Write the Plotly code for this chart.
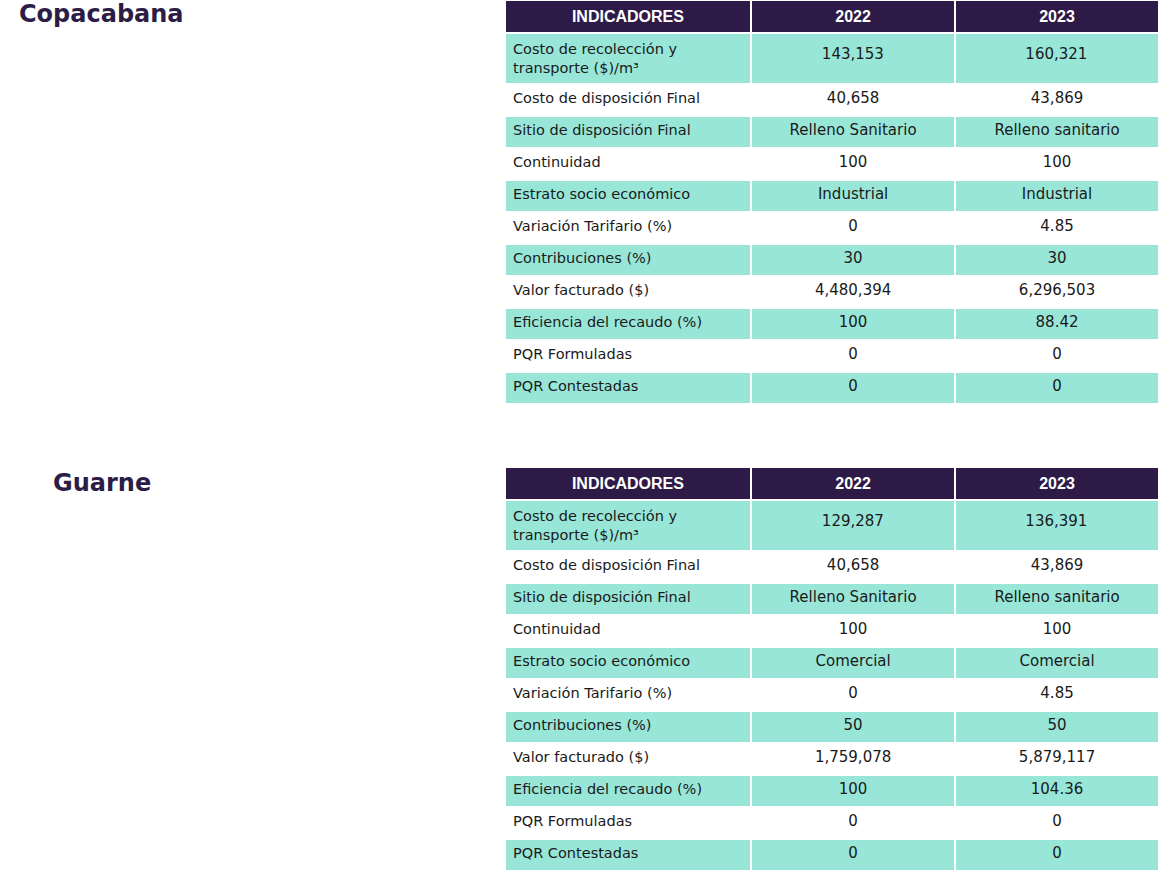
import plotly.graph_objects as go

W, H = 1173, 882

headers = ["INDICADORES", "2022", "2023"]
indicadores = [
    "Costo de recolección y<br>transporte ($)/m³",
    "Costo de disposición Final",
    "Sitio de disposición Final",
    "Continuidad",
    "Estrato socio económico",
    "Variación Tarifario (%)",
    "Contribuciones (%)",
    "Valor facturado ($)",
    "Eficiencia del recaudo (%)",
    "PQR Formuladas",
    "PQR Contestadas",
]

copa_2022 = ["143,153", "40,658", "Relleno Sanitario", "100", "Industrial", "0", "30",
             "4,480,394", "100", "0", "0"]
copa_2023 = ["160,321", "43,869", "Relleno sanitario", "100", "Industrial", "4.85", "30",
             "6,296,503", "88.42", "0", "0"]

guarne_2022 = ["129,287", "40,658", "Relleno Sanitario", "100", "Comercial", "0", "50",
               "1,759,078", "100", "0", "0"]
guarne_2023 = ["136,391", "43,869", "Relleno sanitario", "100", "Comercial", "4.85", "50",
               "5,879,117", "104.36", "0", "0"]

HEAD_BG = "#2e1a47"
TEAL = "#98e6d8"
WHITE = "#ffffff"
CLEAR = "rgba(0,0,0,0)"
FONT = "DejaVu Sans"
TXT = "#1a1a1a"
FS_LABEL = 14.5
FS_VALUE = 15

n = len(indicadores)
row_fill = [TEAL if i % 2 == 0 else WHITE for i in range(n)]

X0, X1 = 505, 1159
COLW = [245, 203, 203]
scale = (X1 - X0) / sum(COLW)
XV = X0 + COLW[0] * scale  # left edge of the value columns


def make_tables(c1, c2, top_px):
    # first row of value columns is drawn by an overlay so it sits mid-row
    v1 = [""] + list(c1[1:])
    v2 = [""] + list(c2[1:])
    main = go.Table(
        domain=dict(x=[X0 / W, X1 / W], y=[0, 1 - top_px / H]),
        columnwidth=COLW,
        header=dict(
            values=[f"<b>{h}</b>" for h in headers],
            fill_color=HEAD_BG,
            line=dict(color=WHITE, width=2),
            align="center",
            font=dict(family="Liberation Sans", size=16, color=WHITE),
            height=28,
        ),
        cells=dict(
            values=[indicadores, v1, v2],
            fill_color=[row_fill, row_fill, row_fill],
            line=dict(color=WHITE, width=2),
            align=["left", "center", "center"],
            font=dict(family=FONT, size=[FS_LABEL, FS_VALUE, FS_VALUE], color=TXT),
            height=32,
        ),
    )
    first_top = top_px + 40
    overlay = go.Table(
        domain=dict(x=[XV / W, X1 / W], y=[0, 1 - first_top / H]),
        columnwidth=COLW[1:],
        header=dict(
            values=[c1[0], c2[0]],
            fill_color=CLEAR,
            line=dict(color=CLEAR, width=0),
            align="center",
            font=dict(family=FONT, size=FS_VALUE, color=TXT),
            height=28,
        ),
        cells=dict(values=[[""], [""]], fill_color=CLEAR,
                   line=dict(color=CLEAR, width=0), height=1),
    )
    return [main, overlay]


fig = go.Figure()
for t in make_tables(copa_2022, copa_2023, 0):
    fig.add_trace(t)
for t in make_tables(guarne_2022, guarne_2023, 467):
    fig.add_trace(t)

fig.add_annotation(text="<b>Copacabana</b>", x=17 / W, y=1 - 14 / H, xref="paper", yref="paper",
                   xanchor="left", yanchor="middle", showarrow=False,
                   font=dict(family=FONT, size=24, color="#2b1d45"))
fig.add_annotation(text="<b>Guarne</b>", x=51 / W, y=1 - 483 / H, xref="paper", yref="paper",
                   xanchor="left", yanchor="middle", showarrow=False,
                   font=dict(family=FONT, size=24, color="#2b1d45"))

fig.update_layout(width=W, height=H, margin=dict(l=0, r=0, t=0, b=0),
                  paper_bgcolor=WHITE, plot_bgcolor=WHITE)

fig.write_html("out.html", config={"displayModeBar": False},
               post_script="document.body.style.margin='0';")
